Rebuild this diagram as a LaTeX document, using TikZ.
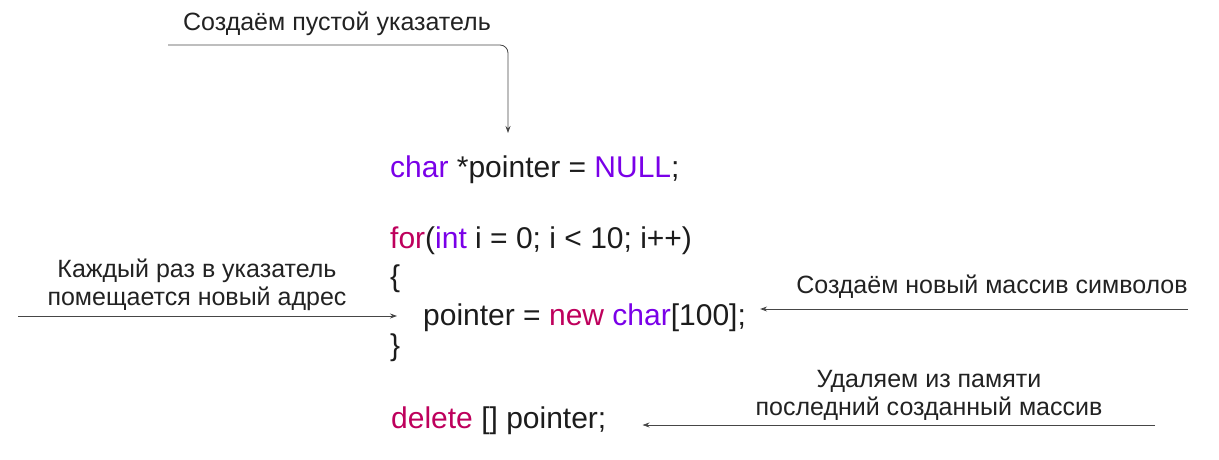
\documentclass[tikz,border=0pt]{standalone}
\usepackage{fontspec}
\setmainfont{Liberation Sans}
\usetikzlibrary{arrows.meta}
\definecolor{kwpurple}{RGB}{122,0,232}
\definecolor{kwred}{RGB}{190,0,92}
\definecolor{codeink}{RGB}{28,28,28}
\definecolor{noteink}{RGB}{34,34,34}
\definecolor{lineink}{RGB}{70,70,70}
\newcommand{\kwp}[1]{\textcolor{kwpurple}{#1}}
\newcommand{\kwr}[1]{\textcolor{kwred}{#1}}
\begin{document}
\begin{tikzpicture}[x=1pt,y=-1pt,
    code/.style={anchor=base west,inner sep=0pt,text=codeink,font=\fontsize{30}{34}\selectfont},
    note/.style={inner sep=0pt,text=noteink,align=center,font=\fontsize{25}{28}\selectfont},
    pin/.style={draw=lineink,line width=0.8pt,-{Stealth[length=7pt,width=5pt]}}]
% \draw [help lines,step=50] (0,0) grid (1219,460) ;
\useasboundingbox (0,0) rectangle (1219,460);

% code lines
\node[code] (cnull) at (390,177) {\kwp{char} *pointer = \kwp{NULL};};
\node[code] (cfor)  at (390,248) {\kwr{for}(\kwp{int} i = 0; i < 10; i++)};
\node[code] (copen) at (390,286) {\{};
\node[code] (cnew)  at (423,325) {pointer = \kwr{new} \kwp{char}[100];};
\node[code] (cclose) at (390,355) {\}};
\node[code] (cdel)  at (391,428) {\kwr{delete} [] pointer;};

% notes
\node[note,anchor=base] (ntop) at (337,31) {Создаём пустой указатель};
\node[note] (nleft) at (197,285) {Каждый раз в указатель\\помещается новый адрес};
\node[note,anchor=base] (nright) at (992,293) {Создаём новый массив символов};
\node[note] (nbot) at (929,395) {Удаляем из памяти\\последний созданный массив};

% arrows
\coordinate (atop) at (168,45);
\coordinate (ttop) at (508,133);
\coordinate (aleft) at (18,316);
\coordinate (aright) at (1188,309);
\coordinate (abot) at (1155,425);

\draw[pin,rounded corners=8pt] (atop) -| (ttop);
\draw[pin,shorten >=26pt] (aleft) -- (aleft -| cnew.west);
\draw[pin,shorten >=14pt] (aright) -- (aright -| cnew.east);
\draw[pin,shorten >=36pt] (abot) -- (abot -| cdel.east);
\end{tikzpicture}
\end{document}
